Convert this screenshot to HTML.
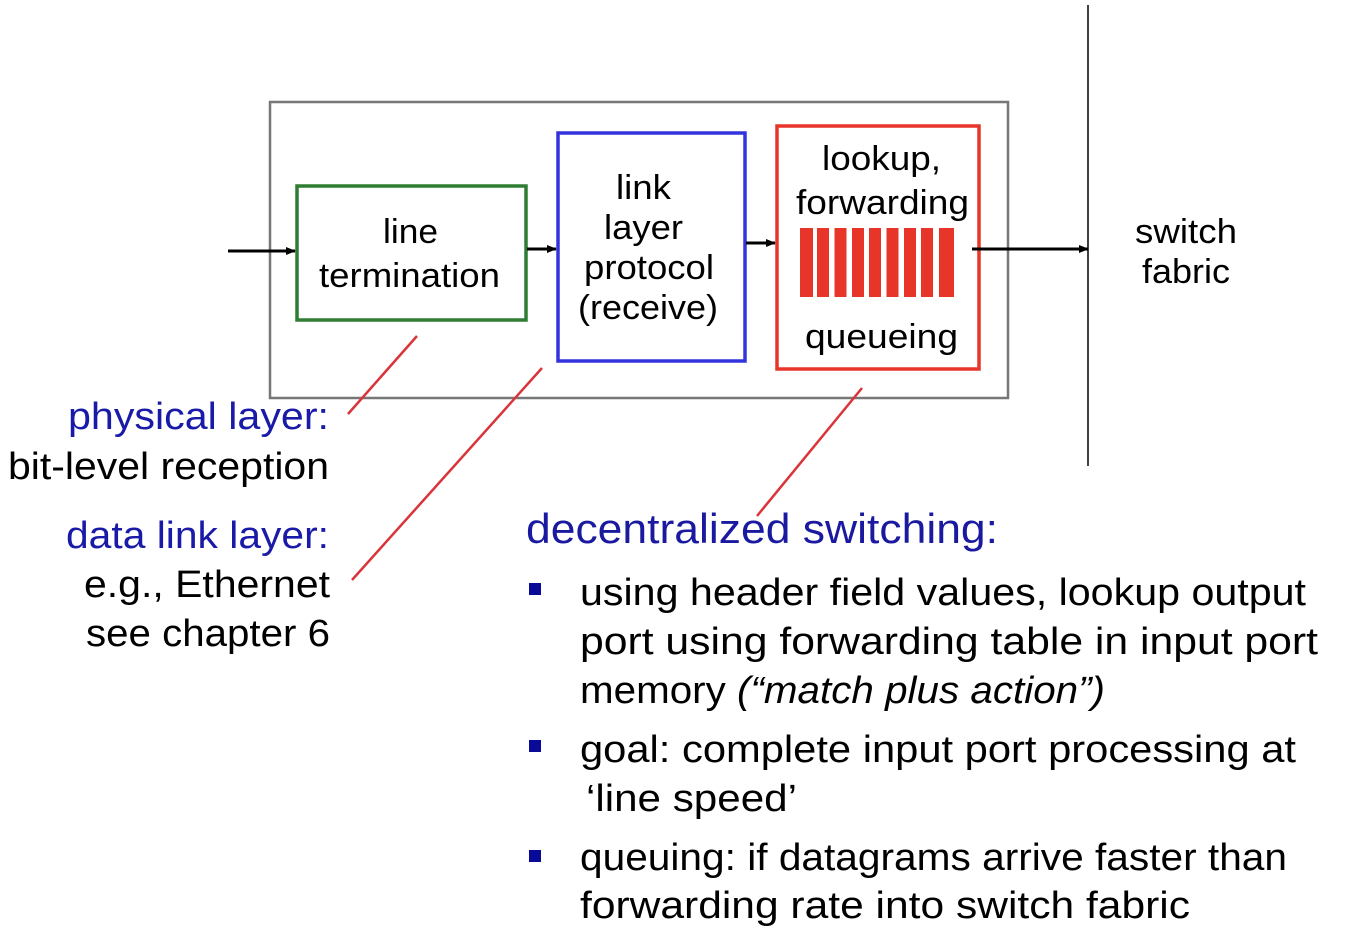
<!DOCTYPE html>
<html><head><meta charset="utf-8"><style>html,body{margin:0;padding:0;background:#fff}svg{display:block}</style></head>
<body>
<svg width="1354" height="928" viewBox="0 0 1354 928" xmlns="http://www.w3.org/2000/svg" font-family="Liberation Sans, sans-serif">
<defs><marker id="a" markerWidth="10" markerHeight="10" refX="9" refY="5" orient="auto" markerUnits="userSpaceOnUse"><path d="M0,1 L10,5 L0,9 z" fill="#000"/></marker></defs>
<rect x="270" y="102" width="738" height="296" fill="none" stroke="#777" stroke-width="2.5"/>
<rect x="297" y="186" width="229" height="134" fill="none" stroke="#2e7d32" stroke-width="3.5"/>
<rect x="558" y="133" width="187" height="228" fill="none" stroke="#3333dd" stroke-width="3.5"/>
<rect x="777" y="126" width="202" height="243" fill="none" stroke="#e8352a" stroke-width="3.5"/>
<g fill="#e8352a">
<rect x="800" y="228" width="13" height="69"/><rect x="817" y="228" width="12" height="69"/><rect x="834.5" y="228" width="12" height="69"/><rect x="852" y="228" width="12" height="69"/><rect x="869" y="228" width="12" height="69"/><rect x="886.5" y="228" width="12" height="69"/><rect x="904" y="228" width="12" height="69"/><rect x="921" y="228" width="12" height="69"/><rect x="939" y="228" width="15" height="69"/>
</g>
<g stroke="#000" stroke-width="3" marker-end="url(#a)">
<line x1="228" y1="251" x2="295" y2="251"/><line x1="527" y1="249" x2="556" y2="249"/><line x1="746" y1="243" x2="775" y2="243"/><line x1="972" y1="249" x2="1088" y2="249"/>
</g>
<line x1="1088" y1="5" x2="1088" y2="466" stroke="#000" stroke-width="1.5"/>
<g stroke="#d9343a" stroke-width="2.5">
<line x1="417" y1="336" x2="348" y2="414"/><line x1="542" y1="368" x2="352" y2="580"/><line x1="862" y1="388" x2="757" y2="516"/>
</g>
<g font-size="34" fill="#000" lengthAdjust="spacingAndGlyphs">
<text x="383" y="243" textLength="55" lengthAdjust="spacingAndGlyphs">line</text>
<text x="319" y="287" textLength="181" lengthAdjust="spacingAndGlyphs">termination</text>
<text x="616" y="199" textLength="55" lengthAdjust="spacingAndGlyphs">link</text>
<text x="604" y="239" textLength="79" lengthAdjust="spacingAndGlyphs">layer</text>
<text x="584" y="279" textLength="130" lengthAdjust="spacingAndGlyphs">protocol</text>
<text x="578" y="319" textLength="140" lengthAdjust="spacingAndGlyphs">(receive)</text>
<text x="822" y="170" textLength="119" lengthAdjust="spacingAndGlyphs">lookup,</text>
<text x="796" y="214" textLength="173" lengthAdjust="spacingAndGlyphs">forwarding</text>
<text x="805" y="348" textLength="153" lengthAdjust="spacingAndGlyphs">queueing</text>
<text x="1135" y="243" textLength="102" lengthAdjust="spacingAndGlyphs">switch</text>
<text x="1142" y="283" textLength="88" lengthAdjust="spacingAndGlyphs">fabric</text>
</g>
<g font-size="38">
<text x="68" y="429" fill="#1a1aa8" textLength="261" lengthAdjust="spacingAndGlyphs">physical layer:</text>
<text x="8" y="479" fill="#000" textLength="321" lengthAdjust="spacingAndGlyphs">bit-level reception</text>
<text x="66" y="548" fill="#1a1aa8" textLength="263" lengthAdjust="spacingAndGlyphs">data link layer:</text>
<text x="84" y="597" fill="#000" textLength="246" lengthAdjust="spacingAndGlyphs">e.g., Ethernet</text>
<text x="86" y="646" fill="#000" textLength="244" lengthAdjust="spacingAndGlyphs">see chapter 6</text>
</g>
<text x="526" y="543" font-size="42" fill="#1a1aa0" textLength="472" lengthAdjust="spacingAndGlyphs">decentralized switching:</text>
<g fill="#0a0a99"><rect x="529" y="583" width="12" height="12"/><rect x="529" y="740" width="12" height="12"/><rect x="529" y="850" width="12" height="12"/></g>
<g font-size="38" fill="#000">
<text x="580" y="605" textLength="726" lengthAdjust="spacingAndGlyphs">using header field values, lookup output</text>
<text x="580" y="654" textLength="738" lengthAdjust="spacingAndGlyphs">port using forwarding table in input port</text>
<text x="580" y="703" textLength="525" lengthAdjust="spacingAndGlyphs">memory <tspan font-style="italic">(“match plus action”)</tspan></text>
<text x="580" y="762" textLength="716" lengthAdjust="spacingAndGlyphs">goal: complete input port processing at</text>
<text x="586" y="811" textLength="211" lengthAdjust="spacingAndGlyphs">‘line speed’</text>
<text x="580" y="870" textLength="707" lengthAdjust="spacingAndGlyphs">queuing: if datagrams arrive faster than</text>
<text x="580" y="918" textLength="610" lengthAdjust="spacingAndGlyphs">forwarding rate into switch fabric</text>
</g>
</svg>
</body></html>
